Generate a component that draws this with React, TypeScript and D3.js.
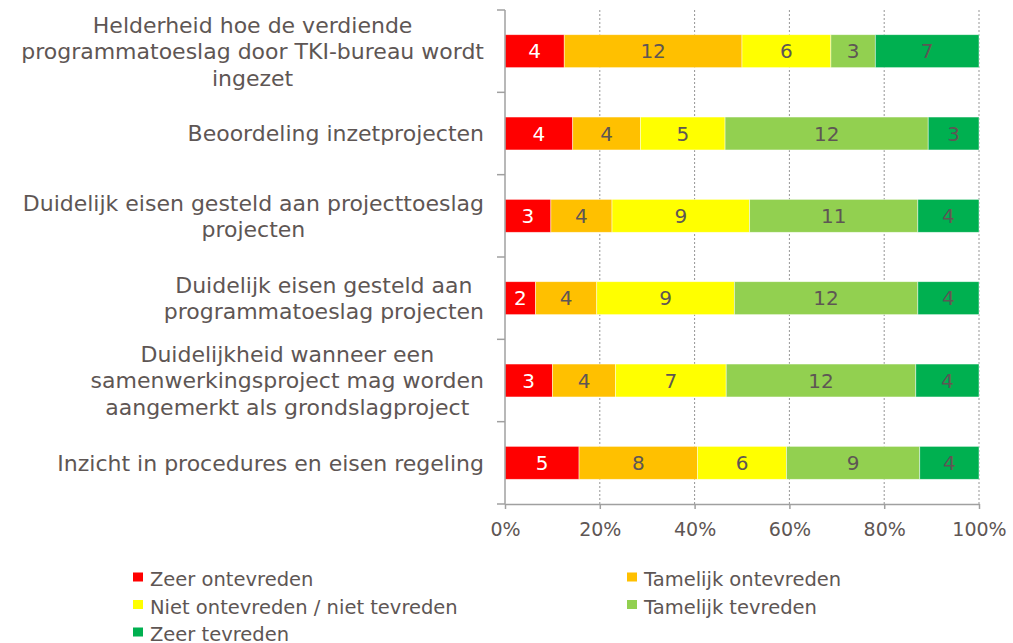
import React, { useEffect, useRef } from 'react';
import * as d3 from 'd3';

// categorieën (van boven naar beneden), met regelafbreking zoals in het origineel
const categories = [
  ['Helderheid hoe de verdiende', 'programmatoeslag door TKI-bureau wordt', 'ingezet'],
  ['Beoordeling inzetprojecten'],
  ['Duidelijk eisen gesteld aan projecttoeslag', 'projecten'],
  ['Duidelijk eisen gesteld aan ', 'programmatoeslag projecten'],
  ['Duidelijkheid wanneer een', 'samenwerkingsproject mag worden', 'aangemerkt als grondslagproject'],
  ['Inzicht in procedures en eisen regeling'],
];

const seriesNames = [
  'Zeer ontevreden',
  'Tamelijk ontevreden',
  'Niet ontevreden / niet tevreden',
  'Tamelijk tevreden',
  'Zeer tevreden',
];

const zeerOntevreden = [4, 4, 3, 2, 3, 5];
const tamelijkOntevreden = [12, 4, 4, 4, 4, 8];
const neutraal = [6, 5, 9, 9, 7, 6];
const tamelijkTevreden = [3, 12, 11, 12, 12, 9];
const zeerTevreden = [7, 3, 4, 4, 4, 4];

const seriesValues = [zeerOntevreden, tamelijkOntevreden, neutraal, tamelijkTevreden, zeerTevreden];
const colors = ['#FF0000', '#FFC000', '#FFFF00', '#92D050', '#00B050'];
const xTicks = [0, 0.2, 0.4, 0.6, 0.8, 1];

const W = 1013;
const H = 643;
const textColor = '#5e5654';
const font = '"DejaVu Sans", Verdana, sans-serif';

const App = () => {
  const ref = useRef<SVGSVGElement>(null);

  useEffect(() => {
    const svg = d3.select(ref.current);
    svg.selectAll('*').remove();

    const margin = { top: 10, left: 505, right: 34, bottom: 139 };

    const x = d3.scaleLinear().domain([0, 1]).range([margin.left, W - margin.right]);
    const y = d3
      .scaleBand<number>()
      .domain(d3.range(categories.length))
      .range([margin.top, H - margin.bottom])
      .paddingInner(0.6)
      .paddingOuter(0.3);
    const bandStep = (H - margin.bottom - margin.top) / categories.length;
    const bandTop = (i: number) => margin.top + i * bandStep;

    // rasterlijnen
    svg
      .append('g')
      .selectAll('line')
      .data(xTicks.slice(1))
      .join('line')
      .attr('x1', (d) => x(d))
      .attr('x2', (d) => x(d))
      .attr('y1', margin.top)
      .attr('y2', H - margin.bottom)
      .attr('stroke', '#969696')
      .attr('stroke-width', 1)
      .attr('stroke-dasharray', '2,2');

    // gestapelde balken
    const rows = categories.map((_, i) => {
      const vals = seriesValues.map((s) => s[i]);
      const total = d3.sum(vals);
      let acc = 0;
      return vals.map((v, k) => {
        const seg = { i, k, v, x0: acc / total, x1: (acc + v) / total };
        acc += v;
        return seg;
      });
    });
    const segs = rows.flat();

    svg
      .append('g')
      .selectAll('rect')
      .data(segs)
      .join('rect')
      .attr('x', (d) => x(d.x0))
      .attr('width', (d) => x(d.x1) - x(d.x0))
      .attr('y', (d) => y(d.i)!)
      .attr('height', y.bandwidth())
      .attr('fill', (d) => colors[d.k])
      .attr('stroke', '#ffffff')
      .attr('stroke-opacity', 0.6)
      .attr('stroke-width', 0.75);

    svg
      .append('g')
      .selectAll('text')
      .data(segs)
      .join('text')
      .attr('x', (d) => (x(d.x0) + x(d.x1)) / 2)
      .attr('y', (d) => y(d.i)! + y.bandwidth() / 2)
      .attr('dy', '0.36em')
      .attr('text-anchor', 'middle')
      .style('font-family', font)
      .style('font-size', '20px')
      .attr('fill', (d) => (d.k === 0 ? '#ffffff' : textColor))
      .text((d) => d.v);

    // assen
    const axisColor = '#a0a0a0';
    const yAxis = svg.append('g');
    yAxis
      .append('line')
      .attr('x1', margin.left)
      .attr('x2', margin.left)
      .attr('y1', margin.top)
      .attr('y2', H - margin.bottom)
      .attr('stroke', axisColor)
      .attr('stroke-width', 1.5);
    yAxis
      .selectAll('line.tick')
      .data(d3.range(categories.length + 1))
      .join('line')
      .attr('class', 'tick')
      .attr('x1', margin.left - 8)
      .attr('x2', margin.left)
      .attr('y1', (d) => bandTop(d))
      .attr('y2', (d) => bandTop(d))
      .attr('stroke', axisColor)
      .attr('stroke-width', 1.5);

    const xAxis = svg
      .append('g')
      .attr('transform', `translate(0,${H - margin.bottom})`)
      .call(
        d3
          .axisBottom(x)
          .tickValues(xTicks)
          .tickFormat(d3.format('.0%'))
          .tickSize(5)
          .tickSizeOuter(0)
          .tickPadding(14)
      );
    xAxis.selectAll('path, line').attr('stroke', axisColor).attr('stroke-width', 1.5);
    xAxis
      .selectAll('text')
      .attr('fill', textColor)
      .style('font-family', font)
      .style('font-size', '19px');

    // categorielabels: blok rechts uitgelijnd, regels gecentreerd
    const labelRight = 484;
    const lineH = 26.5;
    categories.forEach((lines, i) => {
      const cy = bandTop(i) + bandStep / 2;
      const g = svg.append('g');
      const texts = g
        .selectAll('text')
        .data(lines)
        .join('text')
        .attr('y', (_, j) => cy + (j - (lines.length - 1) / 2) * lineH)
        .attr('dy', '0.36em')
        .attr('text-anchor', 'middle')
        .attr('fill', textColor)
        .style('font-family', font)
        .style('font-size', '22px')
        .text((d) => d.trimEnd());
      const widths = texts.nodes().map((n) => (n as SVGTextElement).getComputedTextLength());
      const maxW = d3.max(widths) ?? 0;
      texts.attr('x', labelRight - maxW / 2);
    });

    // legenda
    const legendCols = [133, 627];
    const legendRows = [577, 604.5, 632];
    const legend = svg
      .append('g')
      .selectAll('g')
      .data(seriesNames)
      .join('g')
      .attr('transform', (_, k) => `translate(${legendCols[k % 2]},${legendRows[Math.floor(k / 2)]})`);
    legend
      .append('rect')
      .attr('x', 0)
      .attr('y', -4.5)
      .attr('width', 10)
      .attr('height', 9)
      .attr('fill', (_, k) => colors[k]);
    legend
      .append('text')
      .attr('x', 17)
      .attr('y', 2)
      .attr('dy', '0.36em')
      .attr('fill', textColor)
      .style('font-family', font)
      .style('font-size', '19.5px')
      .text((d) => d);
  }, []);

  return (
    <svg
      ref={ref}
      width={W}
      height={H}
      style={{ position: 'absolute', left: 0, top: 0, background: '#ffffff' }}
    />
  );
};

export default App;
